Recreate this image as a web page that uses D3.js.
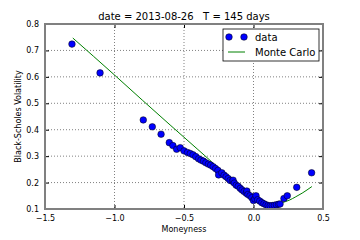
<!DOCTYPE html>
<html lang="en">
<head>
  <meta charset="UTF-8">
  <title>Black-Scholes Volatility vs Moneyness</title>
  <script src="https://d3js.org/d3.v7.min.js"></script>
  <style>
    * { padding: 0; margin: 0; }
    body { background: #fff; }
    svg { display: block; font-family: "DejaVu Sans", sans-serif; }
  </style>
</head>
<body>
  <div id="container"></div>
  <script>
    // observed points (moneyness, implied vol)
    const dataMoneyness = [
      -1.306, -1.104, -0.793, -0.728, -0.665, -0.606, -0.580, -0.553, -0.527, -0.500,
      -0.475, -0.455, -0.435, -0.415, -0.395, -0.378, -0.360, -0.343, -0.325, -0.308,
      -0.290, -0.273, -0.256, -0.251, -0.228, -0.212, -0.197, -0.182, -0.168, -0.152,
      -0.147, -0.138, -0.124, -0.110, -0.095, -0.082, -0.068, -0.052, -0.048, -0.040,
      -0.025, -0.012, 0.000, 0.010, 0.018, 0.030, 0.045, 0.060, 0.075, 0.090,
      0.105, 0.120, 0.135, 0.150, 0.165, 0.180, 0.191, 0.219, 0.243, 0.311, 0.418
    ];
    const dataVol = [
      0.724, 0.615, 0.437, 0.411, 0.383, 0.351, 0.340, 0.326, 0.332, 0.320,
      0.314, 0.310, 0.305, 0.298, 0.290, 0.285, 0.281, 0.275, 0.270, 0.266,
      0.260, 0.253, 0.246, 0.229, 0.237, 0.228, 0.222, 0.215, 0.208, 0.205,
      0.209, 0.198, 0.190, 0.186, 0.178, 0.172, 0.166, 0.160, 0.168, 0.155,
      0.150, 0.143, 0.132, 0.138, 0.150, 0.135, 0.130, 0.124, 0.120, 0.116,
      0.113, 0.112, 0.113, 0.114, 0.116, 0.118, 0.119, 0.140, 0.150, 0.182, 0.237
    ];
    // Monte Carlo curve
    const mcMoneyness = [-1.30, -1.0, -0.8, -0.6, -0.4, -0.3, -0.2, -0.1, -0.05, 0.0, 0.05, 0.1, 0.15, 0.2, 0.26, 0.3, 0.35, 0.42];
    const mcVol = [0.747, 0.607, 0.512, 0.418, 0.325, 0.278, 0.228, 0.178, 0.157, 0.140, 0.125, 0.116, 0.116, 0.123, 0.134, 0.145, 0.160, 0.185];

    const xTicks = [-1.5, -1.0, -0.5, 0.0, 0.5];
    const yTicks = [0.1, 0.2, 0.3, 0.4, 0.5, 0.6, 0.7, 0.8];
    const title = "date = 2013-08-26   T = 145 days";

    const width = 360, height = 240;
    const margin = { top: 24, right: 37, bottom: 31, left: 45 };
    const iw = width - margin.left - margin.right;
    const ih = height - margin.top - margin.bottom;

    const x = d3.scaleLinear().domain([-1.5, 0.5]).range([0, iw]);
    const y = d3.scaleLinear().domain([0.1, 0.8]).range([ih, 0]);
    const fmt = d => d3.format(".1f")(d).replace("-", "\u2212");

    const svg = d3.select("#container").append("svg")
      .attr("width", width).attr("height", height);

    svg.append("text")
      .attr("x", margin.left + iw / 2).attr("y", 20)
      .attr("text-anchor", "middle").attr("font-size", 10)
      .style("white-space", "pre")
      .text(title);

    const g = svg.append("g").attr("transform", `translate(${margin.left},${margin.top})`);

    // grid
    g.append("g").selectAll("line").data(xTicks.slice(1, -1)).join("line")
      .attr("x1", d => x(d)).attr("x2", d => x(d)).attr("y1", 0).attr("y2", ih)
      .attr("stroke", "#000").attr("stroke-width", 0.5).attr("stroke-dasharray", "1,2");
    g.append("g").selectAll("line").data(yTicks.slice(1, -1)).join("line")
      .attr("y1", d => y(d)).attr("y2", d => y(d)).attr("x1", 0).attr("x2", iw)
      .attr("stroke", "#000").attr("stroke-width", 0.5).attr("stroke-dasharray", "1,2");

    // axes with inward ticks (all four sides)
    const xAxis = g.append("g").attr("transform", `translate(0,${ih})`)
      .call(d3.axisBottom(x).tickValues(xTicks).tickFormat(fmt).tickSizeInner(-4).tickSizeOuter(0).tickPadding(6));
    const yAxis = g.append("g")
      .call(d3.axisLeft(y).tickValues(yTicks).tickFormat(fmt).tickSizeInner(-4).tickSizeOuter(0).tickPadding(6));
    const xTop = g.append("g")
      .call(d3.axisTop(x).tickValues(xTicks).tickFormat("").tickSizeInner(-4).tickSizeOuter(0));
    const yRight = g.append("g").attr("transform", `translate(${iw},0)`)
      .call(d3.axisRight(y).tickValues(yTicks).tickFormat("").tickSizeInner(-4).tickSizeOuter(0));
    [xAxis, yAxis, xTop, yRight].forEach(a => {
      a.select(".domain").remove();
      a.selectAll("text").attr("font-size", 8).attr("font-family", "DejaVu Sans").attr("fill", "#000");
      a.selectAll("line").attr("stroke", "#000");
    });

    // Monte Carlo line
    g.append("path")
      .datum(d3.range(mcMoneyness.length))
      .attr("fill", "none").attr("stroke", "#008000").attr("stroke-width", 1)
      .attr("d", d3.line().x(i => x(mcMoneyness[i])).y(i => y(mcVol[i])).curve(d3.curveMonotoneX));

    // data points
    g.append("g").selectAll("circle").data(d3.range(dataMoneyness.length)).join("circle")
      .attr("cx", i => x(dataMoneyness[i])).attr("cy", i => y(dataVol[i]))
      .attr("r", 3.3).attr("fill", "#0000ff").attr("stroke", "#000").attr("stroke-width", 0.5);

    // frame
    g.append("rect").attr("width", iw).attr("height", ih)
      .attr("fill", "none").attr("stroke", "#808080").attr("stroke-width", 2);

    // labels
    svg.append("text")
      .attr("x", margin.left + iw / 2).attr("y", 232)
      .attr("text-anchor", "middle").attr("font-size", 8).text("Moneyness");
    svg.append("text")
      .attr("transform", `translate(21,${margin.top + ih / 2}) rotate(-90)`)
      .attr("text-anchor", "middle").attr("font-size", 8).text("Black-Scholes Volatility");

    // legend
    const lg = svg.append("g").attr("transform", "translate(223,29)");
    lg.append("rect").attr("width", 96).attr("height", 32)
      .attr("fill", "#fff").attr("stroke", "#000").attr("stroke-width", 0.8);
    [6, 21].forEach(cx => lg.append("circle").attr("cx", cx).attr("cy", 8).attr("r", 3.3)
      .attr("fill", "#0000ff").attr("stroke", "#000").attr("stroke-width", 0.5));
    lg.append("text").attr("x", 32).attr("y", 11.5).attr("font-size", 10).text("data");
    lg.append("line").attr("x1", 5).attr("x2", 22).attr("y1", 23).attr("y2", 23)
      .attr("stroke", "#008000").attr("stroke-width", 1);
    lg.append("text").attr("x", 32).attr("y", 26.5).attr("font-size", 10).text("Monte Carlo");
  </script>
</body>
</html>
